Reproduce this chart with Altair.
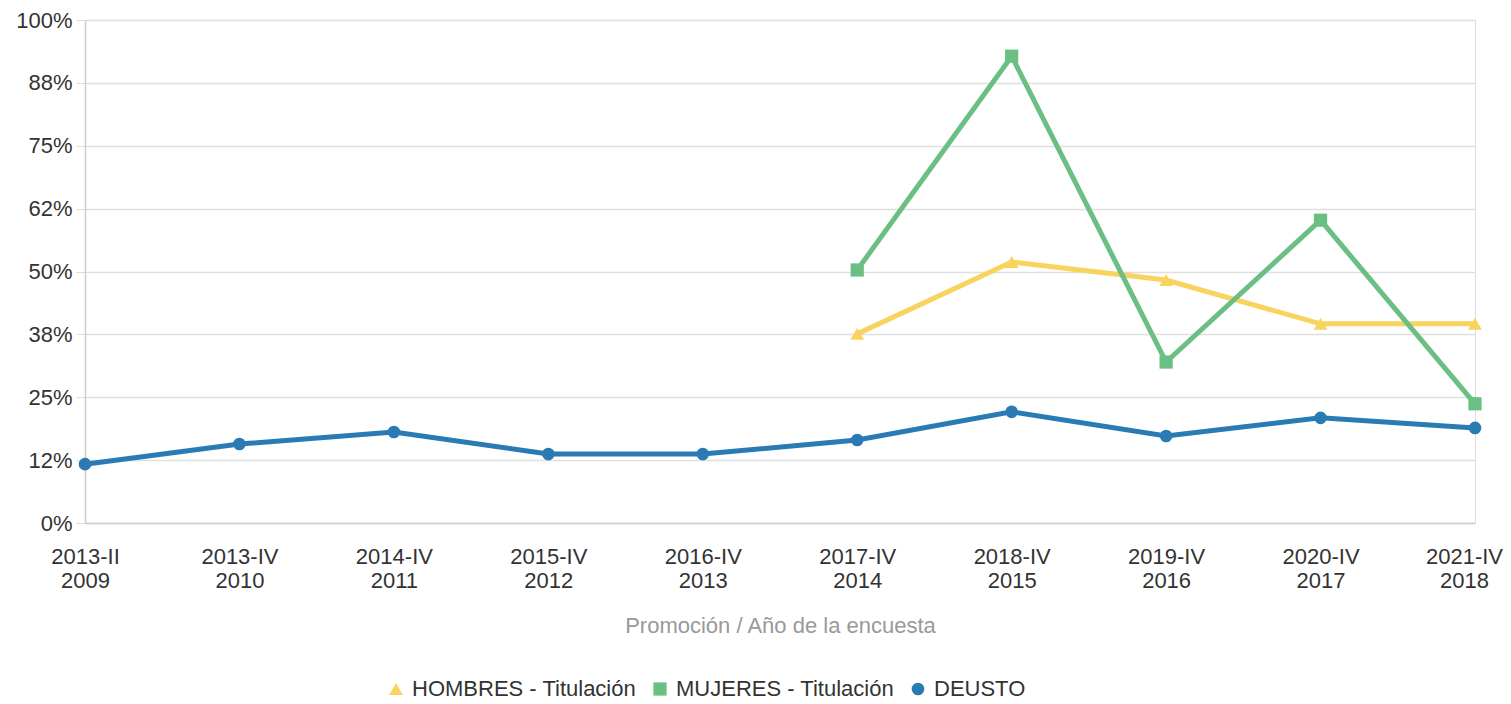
import altair as alt
import pandas as pd

categories = ["2013-II\n2009", "2013-IV\n2010", "2014-IV\n2011", "2015-IV\n2012", "2016-IV\n2013",
              "2017-IV\n2014", "2018-IV\n2015", "2019-IV\n2016", "2020-IV\n2017", "2021-IV\n2018"]
series_names = ["HOMBRES - Titulación", "MUJERES - Titulación", "DEUSTO"]
hombres = [None, None, None, None, None, 37.6, 51.9, 48.3, 39.6, 39.6]
mujeres = [None, None, None, None, None, 50.3, 92.8, 32.0, 60.2, 23.7]
deusto = [11.7, 15.7, 18.1, 13.7, 13.7, 16.5, 22.1, 17.3, 20.9, 18.9]
y_ticks = [0, 12.5, 25, 37.5, 50, 62.5, 75, 87.5, 100]
y_tick_labels = ["0%", "12%", "25%", "38%", "50%", "62%", "75%", "88%", "100%"]
colors = ["#f8d35e", "#6bbf82", "#2a7bb3"]
shapes = ["triangle-up", "square", "circle"]
marker_sizes = [190, 160, 110]

rows = []
for name, vals in zip(series_names, [hombres, mujeres, deusto]):
    for c, v in zip(categories, vals):
        if v is not None:
            rows.append({"cat": c, "serie": name, "val": v})
df = pd.DataFrame(rows)

label_expr = "[" + ",".join("'%s'" % t for t in y_tick_labels) + "][indexof([" + \
    ",".join(str(v) for v in y_ticks) + "], datum.value)]"

FONT = "Liberation Sans"
FS = 22

x = alt.X("cat:N", sort=categories, scale=alt.Scale(type="point", padding=0),
          axis=alt.Axis(title="Promoción / Año de la encuesta", labelExpr="split(datum.label, '\\n')",
                        labelAngle=0, labelFontSize=FS, labelColor="#333333", labelLineHeight=24,
                        labelPadding=23, ticks=False, domainColor="#cccccc", domainWidth=1.5,
                        labelOffset={"condition": {"test": "datum.index == 1", "value": -11}, "value": 0},
                        titleFontSize=FS, titleFontWeight="normal", titleColor="#999999",
                        titlePadding=24, grid=False, labelFont=FONT, titleFont=FONT))
y = alt.Y("val:Q", scale=alt.Scale(domain=[0, 100], nice=False),
          axis=alt.Axis(title=None, values=y_ticks, labelExpr=label_expr, labelFontSize=FS,
                        labelColor="#333333", labelFont=FONT, tickSize=9, tickColor="#dddddd",
                        gridColor="#e0e0e0", gridWidth=1.5, domainColor="#cccccc", domainWidth=1.5,
                        labelPadding=4))
color = alt.Color("serie:N", scale=alt.Scale(domain=series_names, range=colors),
                  legend=alt.Legend(title=None, orient="none", legendX=300, legendY=658,
                                    direction="horizontal",
                                    labelFontSize=FS, labelColor="#333333", labelFont=FONT,
                                    symbolSize=150, symbolStrokeWidth=0, columnPadding=12,
                                    labelOffset=5, labelLimit=400))
shape = alt.Shape("serie:N", scale=alt.Scale(domain=series_names, range=shapes), legend=alt.Legend(title=None))
size = alt.Size("serie:N", scale=alt.Scale(domain=series_names, range=marker_sizes), legend=None)

lines = alt.Chart(df).mark_line(strokeWidth=5).encode(x=x, y=y, color=color, detail="serie:N")
pts = alt.Chart(df).mark_point(filled=True, opacity=1).encode(x=x, y=y, color=color, shape=shape, size=size)

chart = alt.layer(lines, pts).properties(
    width=1390, height=503,
    autosize=alt.AutoSizeParams(type="none"),
    padding={"left": 77, "top": 12, "right": 28, "bottom": 180},
).configure_view(stroke=None).configure(font=FONT)

chart.save("out.html", embed_options={"renderer": "svg", "actions": False})
